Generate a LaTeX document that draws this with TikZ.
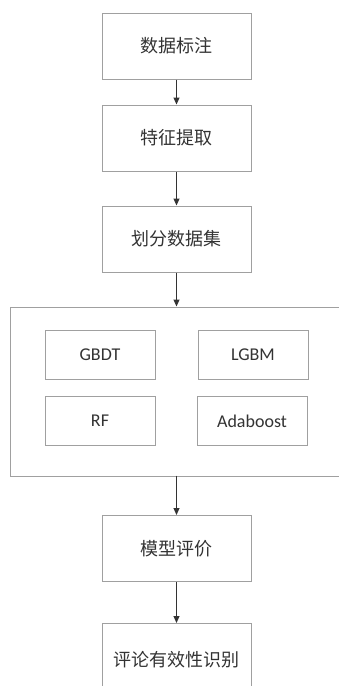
\documentclass[tikz,border=0pt]{standalone}
\usepackage{fontspec}
\newfontfamily\cjk{Noto Sans CJK SC}
\newfontfamily\lat{Carlito}
\usetikzlibrary{arrows.meta}
\definecolor{edge}{HTML}{A0A0A0}
\definecolor{ink}{HTML}{333333}
\definecolor{arr}{HTML}{333333}
\begin{document}
\begin{tikzpicture}[x=1pt,y=-1pt,
  stepbox/.style={draw=edge,line width=1pt,fill=white,minimum width=149pt,minimum height=66pt,inner sep=0pt,text=ink,font=\cjk\fontsize{18}{20}\selectfont},
  algbox/.style={draw=edge,line width=1pt,fill=white,minimum width=110pt,minimum height=49pt,inner sep=0pt,text=ink,font=\lat\fontsize{18}{20}\selectfont},
  flow/.style={draw=arr,line width=1pt,-{Triangle[width=6pt,length=7pt]}}]
\useasboundingbox (0,0) rectangle (339,686);
\clip (0,0) rectangle (339,686);
\fill[white] (0,0) rectangle (339,686);
\node[stepbox] (s1) at (176.5,46) {数据标注};
\node[stepbox] (s2) at (176.5,138) {特征提取};
\node[stepbox] (s3) at (176.5,239) {划分数据集};
\node[draw=edge,line width=1pt,minimum width=340pt,minimum height=169pt,inner sep=0pt,anchor=north west] (grp) at (10,306.5) {};
\coordinate (gtop) at (176.5,306.5);
\coordinate (gbot) at (176.5,475.5);
\node[algbox] (a1) at (100,354.5) {GBDT};
\node[algbox] (a2) at (253,354.5) {LGBM};
\node[algbox] (a3) at (100,421) {RF};
\node[algbox] (a4) at (252,421) {Adaboost};
\node[stepbox] (s4) at (176.5,548.5) {模型评价};
\node[stepbox,minimum height=70pt,anchor=north] (s5) at (176.5,623) {};
\node[text=ink,font=\cjk\fontsize{18}{20}\selectfont] (t5) at (176.5,660) {评论有效性识别};
\draw[flow] (s1) -- (s2);
\draw[flow] (s2) -- (s3);
\draw[flow] (s3) -- (gtop);
\draw[flow] (gbot) -- (s4);
\draw[flow] (s4) -- (s5);
\end{tikzpicture}
\end{document}
